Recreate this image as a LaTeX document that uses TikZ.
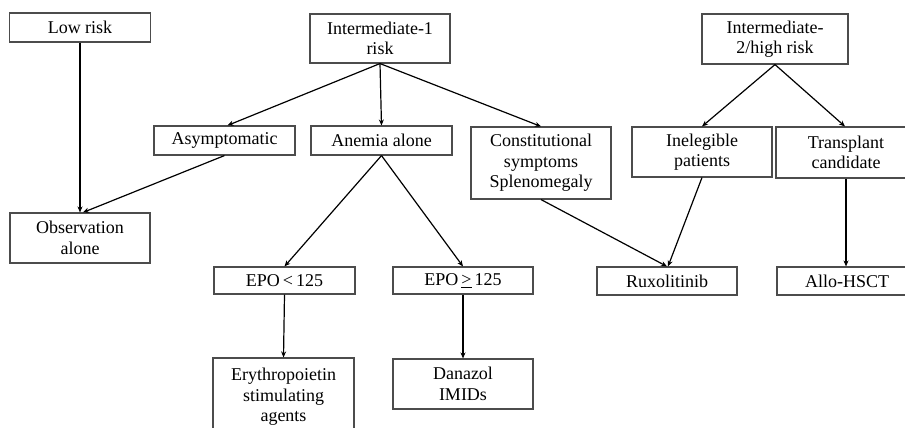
\documentclass[tikz,border=0pt]{standalone}
\usepackage{fontspec}
\setmainfont{Liberation Serif}
\usetikzlibrary{arrows.meta}
\begin{document}
\begin{tikzpicture}[x=1bp,y=-1bp,
  box/.style={draw=black!70,line width=1.1bp,inner sep=0pt,align=center,
    font=\fontsize{18bp}{20.5bp}\selectfont},
  arr/.style={draw=black,line width=1.2bp,-{Stealth[length=6bp,width=5bp]}}]
\useasboundingbox (0,0) rectangle (905,427);
\clip (0,0) rectangle (905,427);
\fill[white] (0,0) rectangle (905,427);
\node[box,minimum width=141bp,minimum height=29bp] (low) at (80,27.5) {Low risk};
\node[box,minimum width=140bp,minimum height=49bp] (int1) at (380,38.5) {Intermediate-1\\risk};
\node[box,minimum width=146bp,minimum height=50bp] (int2) at (775,39) {Intermediate-\\2/high risk};
\node[box,minimum width=141bp,minimum height=29bp] (asym) at (224.5,140.5) {Asymptomatic};
\node[box,minimum width=141bp,minimum height=29bp] (anem) at (381.5,140.5) {Anemia alone};
\node[box,minimum width=140bp,minimum height=72bp] (const) at (541,163) {Constitutional\\symptoms\\Splenomegaly};
\node[box,minimum width=140bp,minimum height=50bp] (inel) at (702,152) {Inelegible\\patients};
\node[box,minimum width=140bp,minimum height=51bp] (trans) at (846,152.5) {Transplant\\candidate};
\node[box,minimum width=140bp,minimum height=50bp] (obs) at (80,238) {Observation\\alone};
\node[box,minimum width=141bp,minimum height=27bp] (epo1) at (284.5,280.5) {EPO\,<\,125};
\node[box,minimum width=140bp,minimum height=27bp] (epo2) at (463,280.5) {EPO\,\underline{>}\,125};
\node[box,minimum width=141bp,minimum height=78bp] (esa) at (283.5,397) {Erythropoietin\\stimulating\\agents};
\node[box,minimum width=140bp,minimum height=50bp] (dan) at (463,384) {Danazol\\IMIDs};
\node[box,minimum width=140bp,minimum height=28bp] (rux) at (667,281) {Ruxolitinib};
\node[box,minimum width=140bp,minimum height=28bp] (allo) at (847,281) {Allo-HSCT};
\draw[arr] (low.south) -- (obs.north);
\draw[arr] (asym.south) -- ([xshift=3bp]obs.north);
\draw[arr] (int1.south) -- ([xshift=3bp]asym.north);
\draw[arr] (int1.south) -- (anem.north);
\draw[arr] (int1.south) -- (const.north);
\draw[arr] (anem.south) -- (epo1.north);
\draw[arr] (anem.south) -- (epo2.north);
\draw[arr] (epo1.south) -- (esa.north);
\draw[arr] (epo2.south) -- (dan.north);
\draw[arr] (const.south) -- (rux.north);
\draw[arr] (inel.south) -- ([xshift=1bp]rux.north);
\draw[arr] (int2.south) -- (inel.north);
\draw[arr] (int2.south) -- ([xshift=-1bp]trans.north);
\draw[arr] (trans.south) -- ([xshift=-1bp]allo.north);
\end{tikzpicture}
\end{document}
